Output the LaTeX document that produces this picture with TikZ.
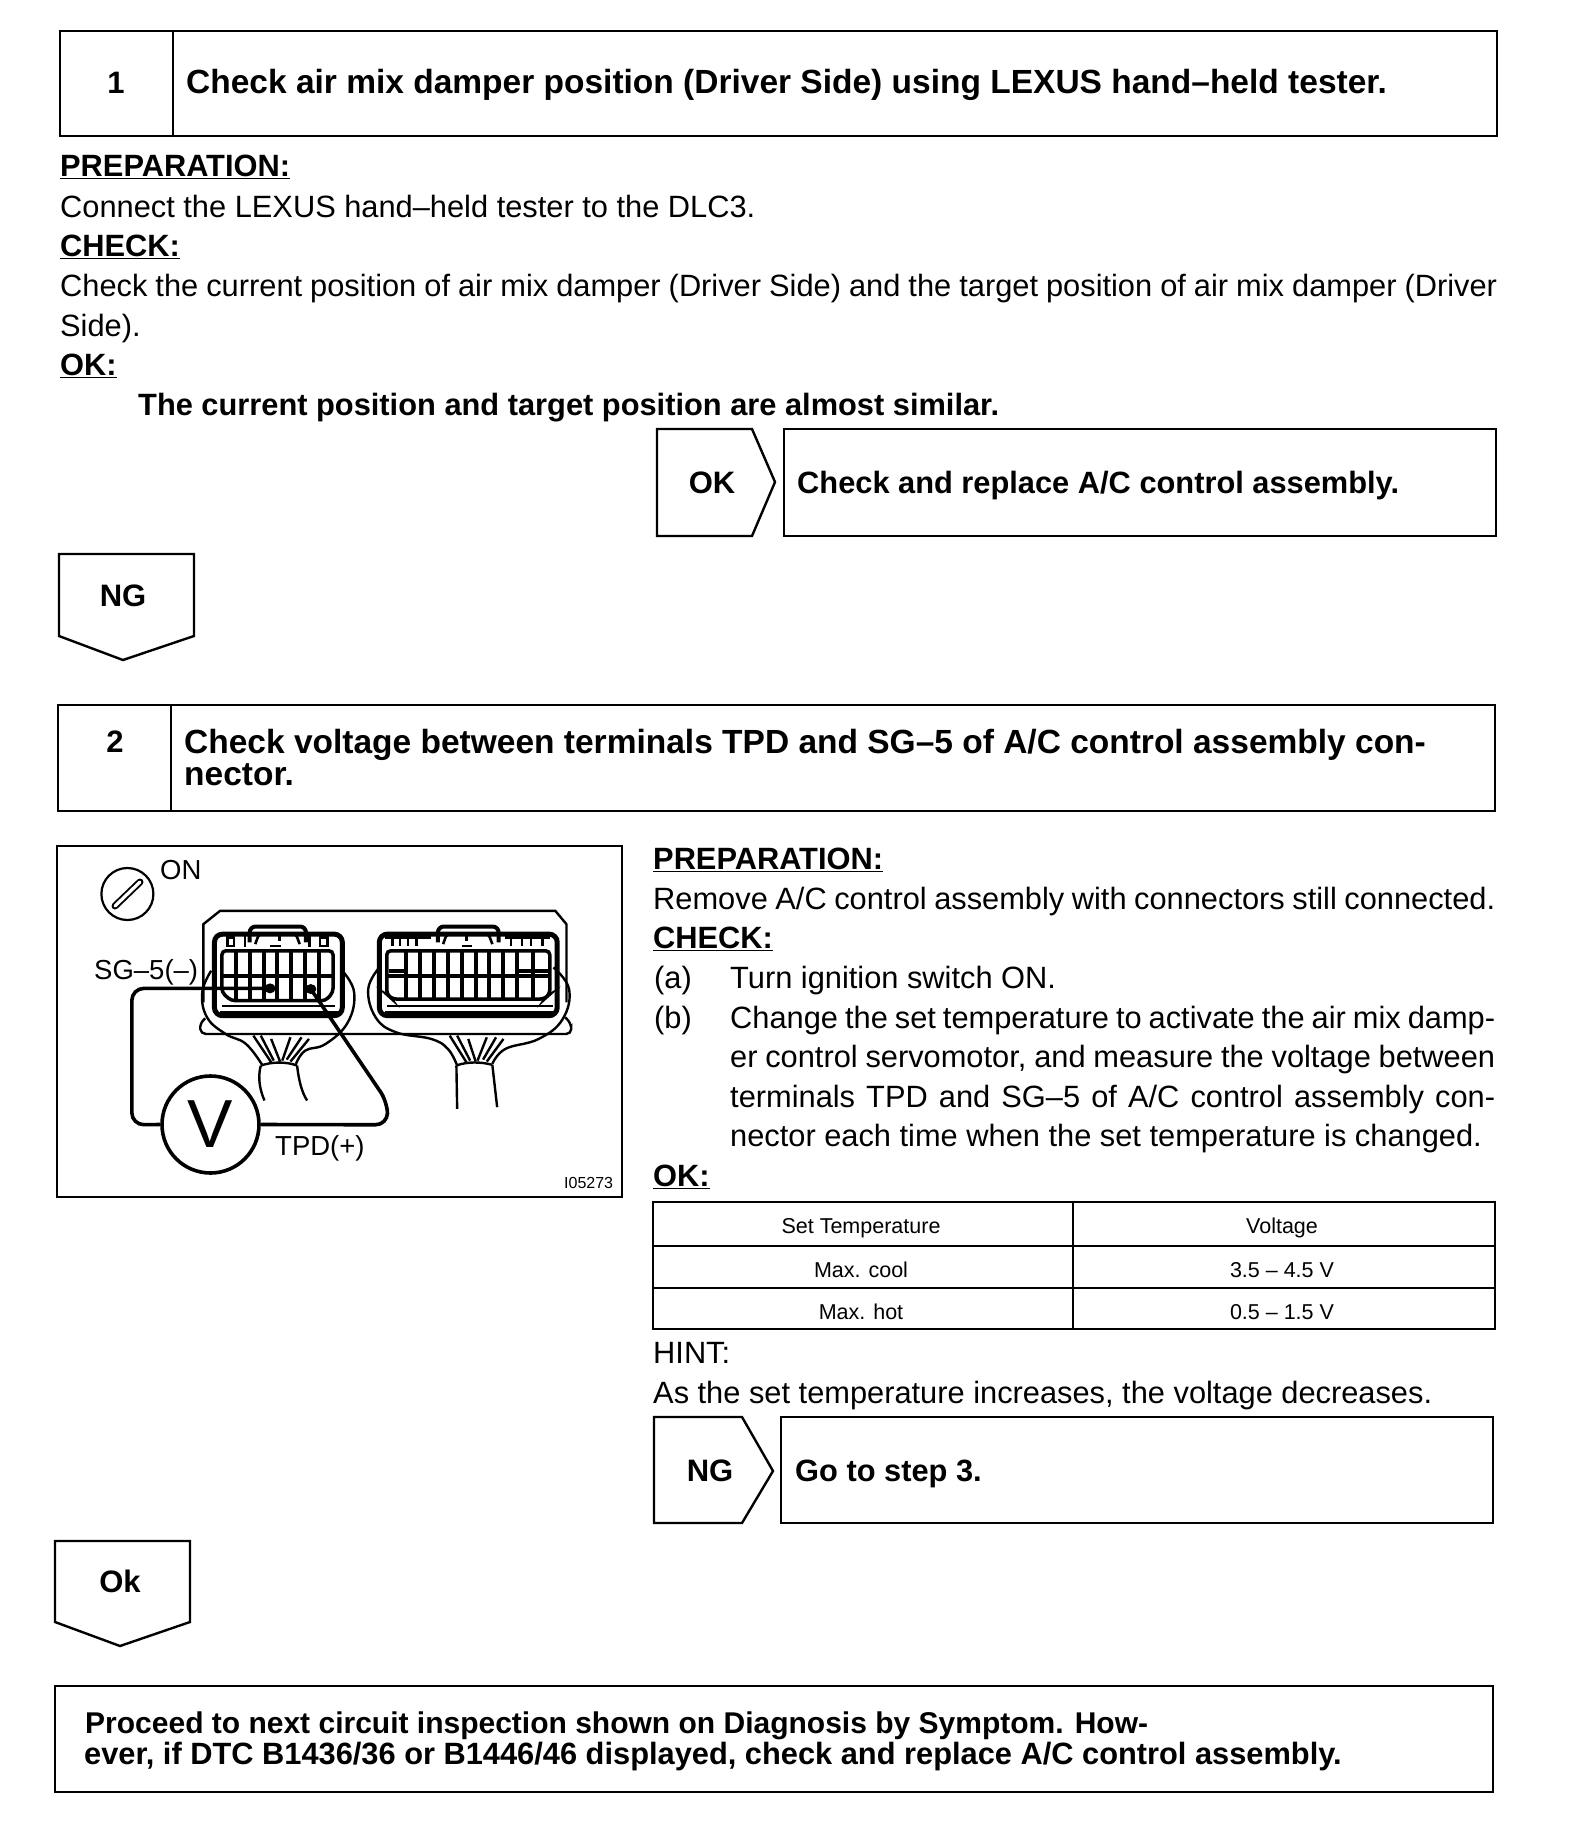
\documentclass[tikz,border=0pt]{standalone}
\usepackage{fontspec}
\setmainfont{Liberation Sans}
\begin{document}
\begin{tikzpicture}[x=1pt,y=-1pt,
  box/.style={draw=black,line width=2.4pt,line join=miter},
  txt/.style={anchor=base west,inner sep=0pt,font=\fontsize{30.8}{36}\selectfont},
  btxt/.style={anchor=base west,inner sep=0pt,font=\fontsize{30.8}{36}\selectfont\bfseries},
  ttl/.style={anchor=base west,inner sep=0pt,font=\fontsize{33.5}{38}\selectfont\bfseries},
  ctxt/.style={anchor=base,inner sep=0pt,font=\fontsize{31}{36}\selectfont\bfseries},
  tab/.style={anchor=base,inner sep=0pt,font=\fontsize{21.5}{26}\selectfont},
  fig/.style={inner sep=0pt,font=\fontsize{27.5}{30}\selectfont},
  wire/.style={draw=black,line width=3.6pt,rounded corners=12pt},
  cn/.style={draw=black,line width=2.4pt},
]
\path[fill=white,use as bounding box] (0,0) rectangle (1584,1822);

% step 1
\draw[box] (60,31) rectangle (1497,136);
\draw[box] (173,31) -- (173,136);
\node[ctxt] (n1) at (116,94) {1};
\node[ttl] (t1) at (186,94) {Check air mix damper position (Driver Side) using LEXUS hand–held tester.};
\node[btxt] (p1) at (60,177) {\underline{PREPARATION:}};
\node[txt] (p2) at (60,217) {Connect the LEXUS hand–held tester to the DLC3.};
\node[btxt] (p3) at (60,256) {\underline{CHECK:}};
\node[txt] (p4) at (60,296) {\makebox[1437pt][s]{Check the current position of air mix damper (Driver Side) and the target position of air mix damper (Driver}};
\node[txt] (p5) at (60,336) {Side).};
\node[btxt] (p6) at (60,375) {\underline{OK:}};
\node[btxt] (p7) at (138,415) {The current position and target position are almost similar.};

\draw[box] (657,429) -- (752,429) -- (775,482) -- (752,536) -- (657,536) -- cycle;
\node[ctxt] (ok1) at (712,493) {OK};
\draw[box] (784,429) rectangle (1496,536);
\node[btxt] (ok1t) at (797,493) {Check and replace A/C control assembly.};

\draw[box] (59,554) -- (194,554) -- (194,636) -- (123,660) -- (59,636) -- cycle;
\node[ctxt] (ng1) at (123,606) {NG};

% step 2
\draw[box] (58,705) rectangle (1495,811);
\draw[box] (171,705) -- (171,811);
\node[ctxt] (n2) at (115,752) {2};
\node[ttl] (t2a) at (184,753) {Check voltage between terminals TPD and SG–5 of A/C control assembly con-};
\node[ttl] (t2b) at (184,785) {nector.};

% figure frame
\draw[box] (57,846) rectangle (622,1197);
\node[fig,anchor=base west] (on) at (160,879) {ON};
\node[fig,anchor=base west] (sg) at (94,979) {SG–5(–)};
\node[fig,anchor=base west] (tpd) at (275,1155) {TPD(+)};
\node[anchor=base west,inner sep=0pt,font=\fontsize{16}{18}\selectfont] (id) at (564,1188) {I05273};
\node[circle,draw=black,line width=2.2pt,minimum size=52pt,inner sep=0pt] (key) at (127.4,894) {};
\coordinate (ka) at (115,906);
\coordinate (kb) at (140,882);
\draw[line width=7pt,line cap=round] (ka) -- (kb);
\draw[white,line width=3.2pt,line cap=round] (ka) -- (kb);
\node[circle,draw=black,line width=3.6pt,minimum size=97pt,inner sep=0pt,font=\fontsize{68}{72}\selectfont] (vm) at (210.5,1124.5) {V};

\begin{scope}[shift={(49.6,836)},x=.3705pt,y=-.3327pt]
  % plate
  \draw[cn] (415,500) -- (415,265) -- (460,225) -- (1365,225) -- (1395,265) -- (1395,500);
  \draw[cn,rounded corners=5pt] (420,548) -- (405,565) -- (408,595) -- (1408,595) -- (1408,565) -- (1392,545);
  % left connector
  \fill[white] (445,295) rectangle (790,540);
  \draw[line width=5pt,rounded corners=8pt] (445,295) rectangle (790,540);
  \draw[line width=4pt,rounded corners=6pt] (540,320) -- (540,272) -- (692,272) -- (692,320);
  \draw[line width=2.6pt,rounded corners=3pt] (555,325) -- (565,295) -- (665,295) -- (675,325);
  \draw[line width=2.4pt] (620,295) -- (620,315);
  \fill (595,328) rectangle (625,335);
  \draw[line width=2.4pt] (480,305) rectangle (498,330);
  \draw[line width=2.4pt] (730,305) rectangle (750,330);
  \draw[line width=2.4pt] (528,300) -- (528,335) (702,300) -- (702,335);
  \draw[line width=3.5pt,rounded corners=4pt] (465,345) -- (765,345) -- (765,470) -- (745,495) -- (490,495) -- (465,470) -- cycle;
  \foreach \gx in {503,540,578,615,652,690,728}
    \draw[line width=4pt] (\gx,345) -- (\gx,495);
  \draw[line width=4pt] (465,420) -- (765,420);
  \draw[line width=2.2pt] (465,510) -- (770,510);
  \draw[line width=3.6pt] (460,530) -- (780,530);
  % right connector
  \fill[white] (890,295) rectangle (1370,540);
  \draw[line width=5pt,rounded corners=8pt] (890,295) rectangle (1370,540);
  \draw[line width=4pt,rounded corners=6pt] (1048,320) -- (1048,272) -- (1212,272) -- (1212,320);
  \draw[line width=2.6pt,rounded corners=3pt] (1062,325) -- (1072,295) -- (1185,295) -- (1195,325);
  \draw[line width=2.4pt] (1125,295) -- (1125,315);
  \fill (1112,328) rectangle (1140,335);
  \foreach \gx in {925,945,968,990,1245,1275,1300,1330}
    \draw[line width=2.4pt] (\gx,305) -- (\gx,332);
  \draw[line width=2.4pt] (905,305) -- (1030,305) (1230,305) -- (1350,305);
  \draw[line width=3.5pt,rounded corners=4pt] (910,345) -- (1350,345) -- (1350,475) -- (1335,490) -- (925,490) -- (910,475) -- cycle;
  \foreach \gx in {962,1000,1037,1075,1112,1150,1187,1225,1262,1305}
    \draw[line width=4pt] (\gx,345) -- (\gx,490);
  \draw[line width=4pt] (910,420) -- (1350,420);
  \draw[line width=3.6pt] (915,405) -- (960,405) (1262,405) -- (1350,405);
  \draw[line width=2.2pt] (910,510) -- (1360,510);
  \draw[line width=3.6pt] (905,530) -- (1360,530);
  % left ring and harness
  \draw[cn] plot[smooth,tension=.7] coordinates {(436,405) (412,470) (425,545) (475,595) (530,625) (575,690)};
  \draw[cn] plot[smooth,tension=.7] coordinates {(790,405) (822,470) (805,560) (745,625) (690,645) (665,685)};
  \draw[cn] (570,690) .. controls (600,678) and (640,678) .. (668,690);
  \draw[cn] (570,690) .. controls (560,730) and (570,770) .. (580,795);
  \draw[cn] (668,690) .. controls (672,730) and (680,770) .. (695,795);
  \draw[cn] (550,600) -- (598,680);
  \draw[cn] (570,600) -- (605,675);
  \draw[cn] (598,610) -- (622,678);
  \draw[cn] (650,605) -- (628,675);
  \draw[cn] (680,605) -- (640,672);
  \draw[cn] (700,610) -- (650,678);
  % right ring and harness
  \draw[cn] plot[smooth,tension=.7] coordinates {(890,395) (860,460) (880,545) (935,590) (1030,610) (1075,640) (1100,690)};
  \draw[cn] plot[smooth,tension=.7] coordinates {(1360,395) (1402,460) (1385,550) (1320,610) (1230,640) (1195,685)};
  \draw[cn] (1098,690) .. controls (1125,678) and (1165,678) .. (1195,688);
  \draw[cn] (1098,690) -- (1100,820);
  \draw[cn] (1195,688) -- (1208,815);
  \draw[cn] (1080,600) -- (1125,680);
  \draw[cn] (1100,600) -- (1135,675);
  \draw[cn] (1130,610) -- (1150,678);
  \draw[cn] (1180,605) -- (1155,675);
  \draw[cn] (1205,605) -- (1170,672);
  \draw[cn] (1225,610) -- (1180,678);
  % probes and wires
  \coordinate (sgp) at (595,458);
  \coordinate (tpp) at (705,460);
  \coordinate (wa) at (222,458);
  \coordinate (wb) at (222,868);
  \coordinate (wc) at (912,868);
  \coordinate (wd) at (912,800);
  \fill (sgp) circle [radius=15];
  \fill (tpp) circle [radius=15];
  \draw[wire] (sgp) -- (wa) -- (wb) -- (vm.west);
  \draw[wire] (vm.east) -- (wc) -- (wd) -- (tpp);
\end{scope}

% right column text
\node[btxt] (q1) at (653,869) {\underline{PREPARATION:}};
\node[txt] (q2) at (653,909) {\makebox[842pt][s]{Remove A/C control assembly with connectors still connected.}};
\node[btxt] (q3) at (653,948) {\underline{CHECK:}};
\node[txt] (qa) at (654,988) {(a)};
\node[txt] (qa2) at (730,988) {Turn ignition switch ON.};
\node[txt] (qb) at (654,1028) {(b)};
\node[txt] (qb1) at (730,1028) {\makebox[765pt][s]{Change the set temperature to activate the air mix damp-}};
\node[txt] (qb2) at (730,1067) {\makebox[765pt][s]{er control servomotor, and measure the voltage between}};
\node[txt] (qb3) at (730,1107) {\makebox[765pt][s]{terminals TPD and SG–5 of A/C control assembly con-}};
\node[txt] (qb4) at (730,1146) {nector each time when the set temperature is changed.};
\node[btxt] (q4) at (653,1186) {\underline{OK:}};

% table
\draw[box] (653,1202) rectangle (1495,1329);
\draw[box] (1073,1202) -- (1073,1329);
\draw[box] (653,1246) -- (1495,1246);
\draw[box] (653,1288) -- (1495,1288);
\node[tab] (h1) at (861,1233) {Set Temperature};
\node[tab] (h2) at (1282,1233) {Voltage};
\node[tab] (r1) at (861,1277) {Max. cool};
\node[tab] (r1v) at (1282,1277) {3.5 – 4.5 V};
\node[tab] (r2) at (861,1319) {Max. hot};
\node[tab] (r2v) at (1282,1319) {0.5 – 1.5 V};

\node[txt] (h3) at (653,1363) {HINT:};
\node[txt] (h4) at (653,1403) {As the set temperature increases, the voltage decreases.};

\draw[box] (654,1417) -- (742,1417) -- (773,1471) -- (742,1523) -- (654,1523) -- cycle;
\node[ctxt] (ng2) at (710,1481) {NG};
\draw[box] (781,1417) rectangle (1493,1523);
\node[btxt] (ng2t) at (795,1481) {Go to step 3.};

\draw[box] (55,1541) -- (190,1541) -- (190,1622) -- (120,1646) -- (55,1622) -- cycle;
\node[ctxt] (ok2) at (120,1592) {Ok};

\draw[box] (55,1686) rectangle (1493,1792);
\node[btxt,font=\fontsize{30}{36}\selectfont\bfseries] (z1) at (85,1733) {Proceed to next circuit inspection shown on Diagnosis by Symptom. How-};
\node[btxt] (z2) at (84,1764) {ever, if DTC B1436/36 or B1446/46 displayed, check and replace A/C control assembly.};
\end{tikzpicture}
\end{document}
